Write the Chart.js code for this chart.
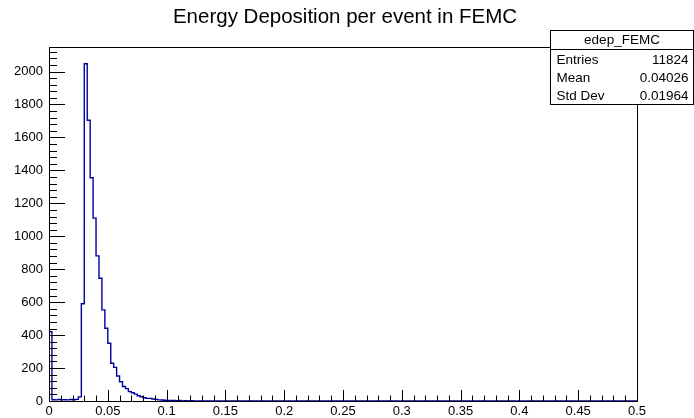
<!DOCTYPE html>
<html>
<head>
<meta charset="utf-8">
<script src="https://cdn.jsdelivr.net/npm/chart.js@4.4.1/dist/chart.umd.min.js"></script>
<style>
  body { margin: 0; background: #fff; }
  canvas { display: block; }
</style>
</head>
<body>
<canvas id="histo" width="694" height="418"></canvas>
<script>
// edep_FEMC histogram: 200 bins from 0 to 0.5
var binWidth = 0.0025;
var counts = [
  420, 8, 7, 9, 8, 8, 7, 9, 8, 10, 25, 590, 2047, 1704, 1355, 1110, 881, 745, 553, 442,
  351, 229, 204, 152, 117, 88, 75, 57, 50, 42, 32, 26, 20, 16, 16, 12, 10, 7, 6, 5,
  4, 3, 3, 2, 3, 1, 2, 1, 2, 0, 1, 1, 0, 1, 0, 1, 0, 0, 0, 0,
  0, 0, 0, 0, 0, 0, 0, 0, 0, 0, 0, 0, 0, 0, 0, 0, 0, 0, 0, 0,
  0, 0, 0, 0, 0, 0, 0, 0, 0, 0, 0, 0, 0, 0, 0, 0, 0, 0, 0, 0,
  0, 0, 0, 0, 0, 0, 0, 0, 0, 0, 0, 0, 0, 0, 0, 0, 0, 0, 0, 0,
  0, 0, 0, 0, 0, 0, 0, 0, 0, 0, 0, 0, 0, 0, 0, 0, 0, 0, 0, 0,
  0, 0, 0, 0, 0, 0, 0, 0, 0, 0, 0, 0, 0, 0, 0, 0, 0, 0, 0, 0,
  0, 0, 0, 0, 0, 0, 0, 0, 0, 0, 0, 0, 0, 0, 0, 0, 0, 0, 0, 0,
  0, 0, 0, 0, 0, 0, 0, 0, 0, 0, 0, 0, 0, 0, 0, 0, 0, 0, 0, 0
];
var xRange = [0, 0.5];
var yMax = 2149;
var xTickStep = 0.05, xMinorStep = 0.01;
var yTickStep = 200, yMinorStep = 40;

var histTitle = 'Energy Deposition per event in FEMC';
var statsName = 'edep_FEMC';
var statsLabels = ['Entries', 'Mean', 'Std Dev'];
var statsValues = ['11824', '0.04026', '0.01964'];

var FONT = '"Liberation Sans", Arial, Helvetica, sans-serif';

// step outline points: left edge of each bin, then the closing edge
// (stepped 'before' = hold the bin value until the next edge)
var points = [{x: xRange[0], y: 0}];
counts.forEach(function(c, i){
    points.push({x: i * binWidth, y: c});
});
points.push({x: xRange[1], y: counts[counts.length - 1]});

// ROOT style frame, inward ticks, title and stats box
var rootDecor = {
    id: 'rootDecor',
    beforeDraw: function(chart){
        var ctx = chart.ctx;
        ctx.save();
        ctx.fillStyle = '#000';
        ctx.font = '20.5px ' + FONT;
        ctx.textAlign = 'center';
        ctx.textBaseline = 'middle';
        ctx.fillText(histTitle, 345, 17);
        ctx.restore();
    },
    afterDatasetsDraw: function(chart){
        var ctx = chart.ctx, ca = chart.chartArea;
        var xs = chart.scales.x, ys = chart.scales.y;
        ctx.save();
        ctx.strokeStyle = '#000';
        ctx.lineWidth = 1;
        ctx.strokeRect(Math.round(ca.left) + 0.5, Math.round(ca.top) + 0.5,
                       Math.round(ca.right - ca.left), Math.round(ca.bottom - ca.top));
        ctx.beginPath();
        var nx = Math.round((xRange[1] - xRange[0]) / xMinorStep);
        var every = Math.round(xTickStep / xMinorStep);
        for (var k = 0; k <= nx; k++){
            var px = Math.round(xs.getPixelForValue(xRange[0] + k * xMinorStep)) + 0.5;
            var len = (k % every === 0) ? 11 : 5.5;
            ctx.moveTo(px, ca.bottom);
            ctx.lineTo(px, ca.bottom - len);
        }
        var ny = Math.floor(yMax / yMinorStep);
        var everyY = Math.round(yTickStep / yMinorStep);
        for (var j = 0; j <= ny; j++){
            var py = Math.round(ys.getPixelForValue(j * yMinorStep)) + 0.5;
            var ylen = (j % everyY === 0) ? 16 : 8;
            ctx.moveTo(ca.left, py);
            ctx.lineTo(ca.left + ylen, py);
        }
        ctx.stroke();

        // stats box
        var bx = 550.5, by = 30.5, bw = 143, bh = 74;
        ctx.fillStyle = '#fff';
        ctx.fillRect(bx, by, bw, bh);
        ctx.strokeRect(bx, by, bw, bh);
        ctx.beginPath();
        ctx.moveTo(bx, by + 19);
        ctx.lineTo(bx + bw, by + 19);
        ctx.stroke();
        ctx.fillStyle = '#000';
        ctx.font = '13.5px ' + FONT;
        ctx.textBaseline = 'middle';
        ctx.textAlign = 'center';
        ctx.fillText(statsName, bx + bw / 2, by + 10);
        statsLabels.forEach(function(lab, i){
            var ty = by + 30 + i * 18;
            ctx.textAlign = 'left';
            ctx.fillText(lab, bx + 6, ty);
            ctx.textAlign = 'right';
            ctx.fillText(statsValues[i], bx + bw - 5, ty);
        });
        ctx.restore();
    }
};

new Chart(document.getElementById('histo'), {
    type: 'line',
    data: {
        datasets: [{
            data: points,
            stepped: 'before',
            borderColor: '#0000a0',
            borderWidth: 1.4,
            pointRadius: 0,
            fill: false
        }]
    },
    options: {
        responsive: false,
        animation: false,
        devicePixelRatio: 1,
        layout: { padding: { top: 47, right: 57, left: 0, bottom: 0 } },
        plugins: { legend: { display: false }, tooltip: { enabled: false }, title: { display: false } },
        scales: {
            x: {
                type: 'linear',
                min: xRange[0], max: xRange[1],
                border: { display: false },
                grid: { display: false, drawTicks: false },
                ticks: {
                    stepSize: xTickStep, includeBounds: false, autoSkip: false, maxRotation: 0,
                    padding: 3, color: '#000', font: { family: FONT, size: 13 },
                    callback: function(v){ return String(Math.round(v * 100) / 100); }
                },
                afterFit: function(s){ s.height = 17; }
            },
            y: {
                min: 0, max: yMax,
                border: { display: false },
                grid: { display: false, drawTicks: false },
                ticks: {
                    stepSize: yTickStep, includeBounds: false, autoSkip: false,
                    padding: 6, color: '#000', font: { family: FONT, size: 13 },
                    callback: function(v){ return String(v); }
                },
                afterFit: function(s){ s.width = 49; }
            }
        }
    },
    plugins: [rootDecor]
});
</script>
</body>
</html>
